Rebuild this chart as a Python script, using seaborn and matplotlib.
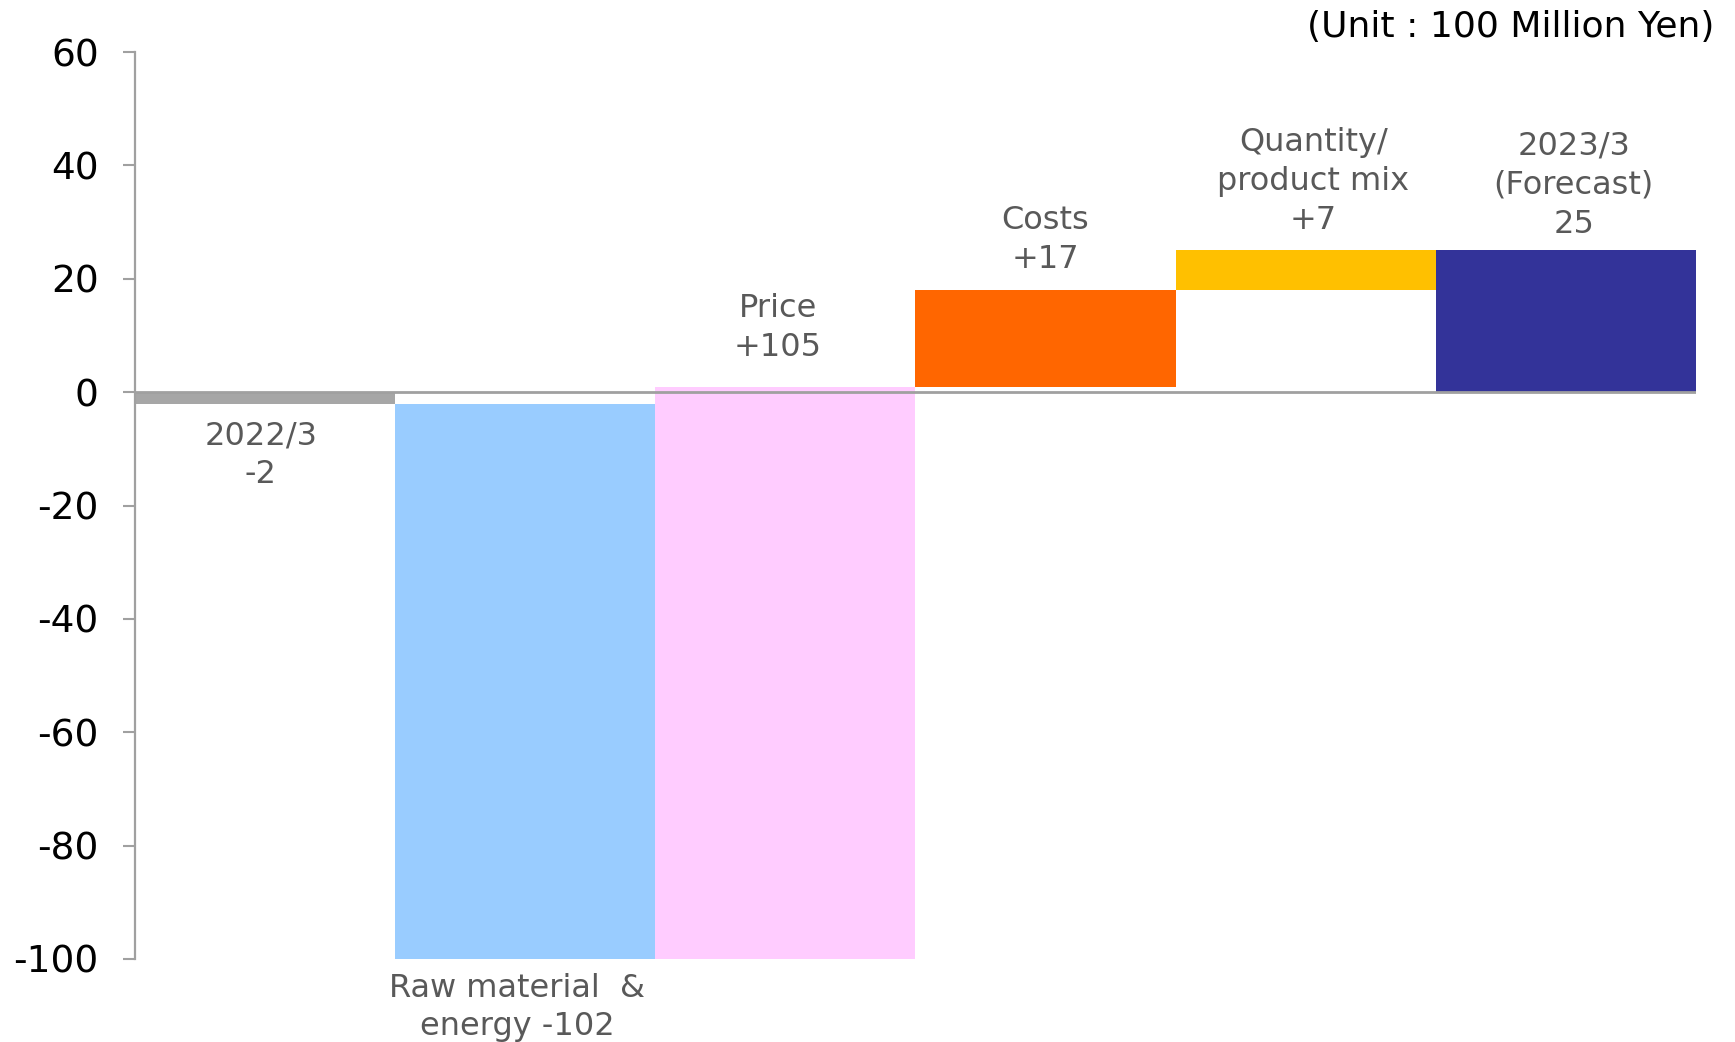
import matplotlib
matplotlib.use("Agg")
import matplotlib.pyplot as plt
import seaborn as sns
import pandas as pd

# ---- data ----
categories = ["2022/3", "Raw material & energy", "Price", "Costs",
              "Quantity/product mix", "2023/3 (Forecast)"]
changes = [-2, -102, 105, 17, 7, 25]          # step values
is_total = [True, False, False, False, False, True]
labels = ["2022/3\n-2", "Raw material  &\nenergy -102", "Price\n+105",
          "Costs\n+17", "Quantity/\nproduct mix\n+7", "2023/3\n(Forecast)\n25"]
colors = ["#A6A6A6", "#99CCFF", "#FFCCFF", "#FF6600", "#FFC000", "#333399"]
yticks = [-100, -80, -60, -40, -20, 0, 20, 40, 60]
unit_text = "(Unit : 100 Million Yen)"

# waterfall bottoms
bottoms = []
running = 0
for c, tot in zip(changes, is_total):
    if tot:
        bottoms.append(0)
        running = c
    else:
        bottoms.append(running)
        running += c

df = pd.DataFrame({"cat": categories, "val": changes})

sns.set_theme(style="white")
plt.rcParams["font.family"] = ["DejaVu Sans"]
plt.rcParams["axes.unicode_minus"] = False

fig = plt.figure(figsize=(17.35, 10.42), dpi=100)
ax = fig.add_axes([0.0778, 0.0797, 0.9775 - 0.0778, 0.950 - 0.0797])

sns.barplot(data=df, x="cat", y="val", hue="cat", palette=colors,
            width=1.0, saturation=1, legend=False, ax=ax, errorbar=None)

# make bars float (waterfall)
for cont, b, c in zip(ax.containers, bottoms, changes):
    for p in cont.patches:
        p.set_y(b)
        p.set_height(c)
        p.set_edgecolor("none")
        p.set_linewidth(0)

ax.set_xlim(-0.5, len(categories) - 0.5)
ax.set_ylim(-100, 60)
ax.set_yticks(yticks)
ax.set_xticks([])
ax.set_xlabel("")
ax.set_ylabel("")

for s in ["top", "right", "bottom"]:
    ax.spines[s].set_visible(False)
ax.spines["left"].set_color("#A0A0A0")
ax.spines["left"].set_linewidth(1.6)
ax.tick_params(axis="y", direction="out", length=9, width=1.5,
               color="#A0A0A0", labelsize=27, labelcolor="black", pad=17,
               left=True)

ax.axhline(0, color="#A0A0A0", lw=2, zorder=5)

# label placement (data-unit anchor)
label_dx = [-0.017, -0.03, -0.03, 0.0, 0.03, 0.03]
label_y = [-5.0, -102.4, 5.2, 20.6, 27.6, 26.9]
label_va = ["top", "top", "bottom", "bottom", "bottom", "bottom"]
for i, (lab, dx, y, va) in enumerate(zip(labels, label_dx, label_y, label_va)):
    ax.text(i + dx, y, lab, ha="center", va=va, fontsize=23, color="#595959",
            linespacing=1.33, clip_on=False)

fig.text(0.988, 0.974, unit_text, ha="right", va="center", fontsize=26,
         color="black")

fig.savefig("out.png", dpi=100)
